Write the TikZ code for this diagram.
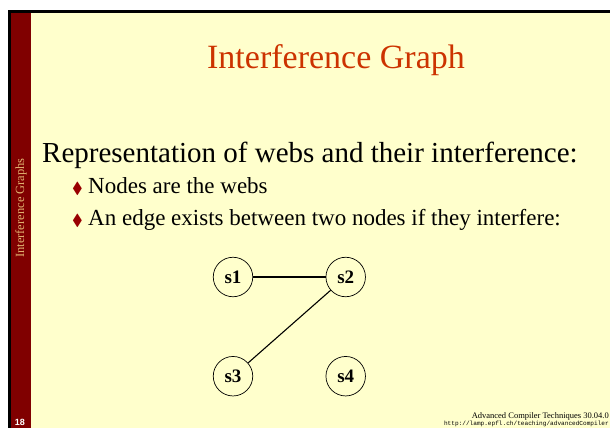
\documentclass[tikz,border=0pt]{standalone}
\usepackage{fontspec}
\setmainfont{Liberation Serif}
\setsansfont{Liberation Sans}
\setmonofont{Liberation Mono}
\usepackage{amssymb}
\usetikzlibrary{positioning}

\definecolor{slidebg}{RGB}{255,255,204}
\definecolor{barred}{RGB}{128,0,0}
\definecolor{titlered}{RGB}{204,51,0}
\definecolor{bartext}{RGB}{225,178,112}
\definecolor{bulletred}{RGB}{153,0,0}

\begin{document}
\begin{tikzpicture}[x=1pt, y=-1pt, node distance=59pt and 72.5pt]
    \tikzstyle{web} = [circle, draw=black, line width=0.7pt, minimum size=39.5pt, inner sep=0pt, font=\fontsize{19}{21}\selectfont\bfseries]
    \tikzstyle{edge} = [line width=1.1pt]
    \tikzstyle{bodytext} = [anchor=base west, inner sep=0pt, font=\fontsize{29}{33}\selectfont]
    \tikzstyle{itemtext} = [anchor=base west, inner sep=0pt, font=\fontsize{23}{27}\selectfont]
    \tikzstyle{bullet} = [anchor=base east, inner sep=0pt, text=bulletred, font=\fontsize{16}{18}\selectfont]

    % slide frame
    \useasboundingbox (0,0) rectangle (610,428);
    \fill[white] (0,0) rectangle (610,428);
    \fill[slidebg] (31,13) rectangle (610,428);
    \fill[black] (8,10) rectangle (610,13);
    \fill[black] (8,10) rectangle (11,428);
    \fill[barred] (11,13) rectangle (31,428);

    \node (side) [rotate=90, text=bartext, font=\fontsize{12.5}{14}\selectfont] at (21,208) {Interference Graphs};
    \node (page) [anchor=base, inner sep=0pt, text=white, font=\fontsize{9}{10}\selectfont\sffamily\bfseries] at (20,425) {18};

    % text
    \node (title) [anchor=base, inner sep=0pt, text=titlered, font=\fontsize{34}{38}\selectfont] at (336,69) {Interference Graph};
    \node (intro) [bodytext] at (42,162) {Representation of webs and their interference:};
    \node (item1) [itemtext] at (88,193) {Nodes are the webs};
    \node (item2) [itemtext] at (88,225) {An edge exists between two nodes if they interfere:};
    \node (dot1) [bullet] at ([xshift=-5pt]item1.base west) {$\blacklozenge$};
    \node (dot2) [bullet] at ([xshift=-5pt]item2.base west) {$\blacklozenge$};

    % graph
    \node (s1) [web] at (233,277) {s1};
    \node (s2) [web, right=of s1] {s2};
    \node (s3) [web, below=of s1] {s3};
    \node (s4) [web, right=of s3] {s4};

    \draw [edge] (s1) -- (s2);
    \draw [edge] (s2) -- (s3);

    % footer
    \node (footer) [anchor=base east, inner sep=0pt, font=\fontsize{8.5}{9}\selectfont] at (609,418) {Advanced Compiler Techniques 30.04.0};
    \node (url) [anchor=base east, inner sep=0pt, font=\fontsize{6.1}{7}\selectfont\ttfamily] at (609,425.5) {http://lamp.epfl.ch/teaching/advancedCompiler};
\end{tikzpicture}
\end{document}
